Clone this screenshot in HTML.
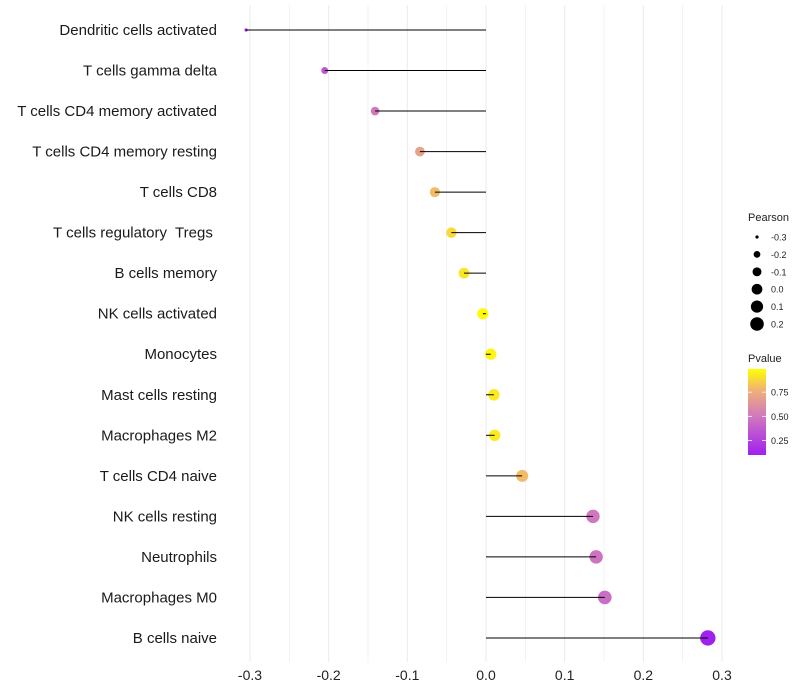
<!DOCTYPE html>
<html><head><meta charset="utf-8"><style>
body{margin:0;background:#fff;}
svg{display:block;font-family:"Liberation Sans",sans-serif;}
text{white-space:pre;}
</style></head><body>
<svg id="chart" width="800" height="700"></svg>
<script>
const categories=["Dendritic cells activated","T cells gamma delta","T cells CD4 memory activated","T cells CD4 memory resting","T cells CD8","T cells regulatory  Tregs ","B cells memory","NK cells activated","Monocytes","Mast cells resting","Macrophages M2","T cells CD4 naive","NK cells resting","Neutrophils","Macrophages M0","B cells naive"];
const pearson=[-0.305,-0.205,-0.141,-0.084,-0.065,-0.044,-0.028,-0.004,0.006,0.010,0.011,0.046,0.136,0.140,0.151,0.282];
const pvalue=[0.10,0.35,0.50,0.70,0.80,0.88,0.92,0.98,0.96,0.93,0.93,0.80,0.50,0.48,0.45,0.08];
const xTicks=[-0.3,-0.2,-0.1,0.0,0.1,0.2,0.3];
const sizeLegend=[-0.3,-0.2,-0.1,0.0,0.1,0.2];
const colorLegend=[0.75,0.50,0.25];

const NS="http://www.w3.org/2000/svg";
const svg=document.getElementById('chart');
function mk(tag,attrs,parent){const e=document.createElementNS(NS,tag);for(const k in attrs)e.setAttribute(k,attrs[k]);(parent||svg).appendChild(e);return e;}
const x=v=>486+v*786.7;
const y=i=>30+i*40.53;
const r=v=>Math.sqrt(Math.max(0.5,2.5+96*(v+0.305)));
const stops=[[0,[160,32,240]],[0.45,[208,120,190]],[0.75,[240,176,120]],[1,[255,255,0]]];
function col(p){let t=(p-0.1)/0.89;t=Math.max(0,Math.min(1,t));for(let k=1;k<stops.length;k++){if(t<=stops[k][0]){const a=stops[k-1],b=stops[k];const f=(t-a[0])/(b[0]-a[0]);const c=a[1].map((v,j)=>Math.round(v+(b[1][j]-v)*f));return`rgb(${c})`;}}return'rgb(255,255,0)';}

for(let v=-0.3;v<=0.301;v+=0.05){
  const g=mk('line',{x1:x(v),x2:x(v),y1:5,y2:662,stroke:'#ebebeb','stroke-width':Math.abs(Math.round(v*100)%10)===5?0.6:1});
  
  
}
xTicks.forEach(v=>{
  const t=mk('text',{x:x(v),y:680,'text-anchor':'middle','font-size':14,fill:'#222'});
  t.textContent=v.toFixed(1);
  
  
});
categories.forEach((c,i)=>{
  const t=mk('text',{x:217,y:y(i)+5,'text-anchor':'end','font-size':15,fill:'#1a1a1a'});
  t.textContent=c;
  
  
  const p=mk('circle',{cx:x(pearson[i]),cy:y(i),r:r(pearson[i]),fill:col(pvalue[i])});
  
  
  const l=mk('line',{x1:x(0),x2:x(pearson[i]),y1:y(i),y2:y(i),stroke:'#000','stroke-width':1});
  
  
});
const st=mk('text',{x:748,y:221,'font-size':11,fill:'#222'});st.textContent='Pearson';


sizeLegend.forEach((v,k)=>{
  const cy=237+k*17.4;
  const c=mk('circle',{cx:757,cy:cy,r:r(v)*0.95,fill:'#000'});
  
  
  const t=mk('text',{x:771,y:cy+3.5,'font-size':9,fill:'#222'});t.textContent=v.toFixed(1);
  
  
});
const ct=mk('text',{x:748,y:362,'font-size':11,fill:'#222'});ct.textContent='Pvalue';


const defs=mk('defs',{});
const lg=mk('linearGradient',{id:'pg',x1:0,y1:1,x2:0,y2:0},defs);
stops.forEach(s=>mk('stop',{offset:s[0],'stop-color':`rgb(${s[1]})`},lg));
const bar=mk('rect',{x:748,y:369,width:18,height:86,fill:'url(#pg)'});


colorLegend.forEach(v=>{
  const yy=369+(0.99-v)/0.89*86;
  mk('line',{x1:748,x2:752,y1:yy,y2:yy,stroke:'#fff','stroke-width':0.8});
  mk('line',{x1:762,x2:766,y1:yy,y2:yy,stroke:'#fff','stroke-width':0.8});
  const t=mk('text',{x:771,y:yy+3.5,'font-size':9,fill:'#222'});t.textContent=v.toFixed(2);
  
  
});
</script>
</body></html>
